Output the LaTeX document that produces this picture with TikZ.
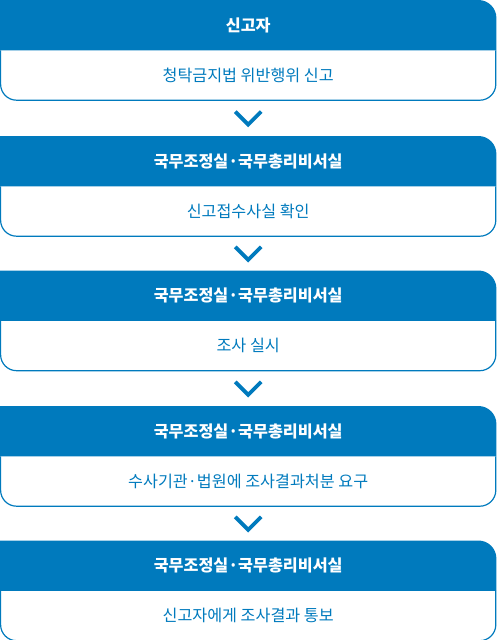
\documentclass[tikz,border=0pt]{standalone}
\usepackage{fontspec}
\setmainfont{Noto Sans CJK KR}
\usetikzlibrary{calc}

\definecolor{flowblue}{RGB}{0,122,189}

\newcommand\FLwidth{496}
\newcommand\FLhead{50}
\newcommand\FLbody{49.4}

\tikzset{
  headbox/.style={minimum width=\FLwidth, minimum height=\FLhead, inner sep=0pt,
    anchor=north west, text=white, font=\fontsize{16.2}{19}\selectfont\bfseries},
  bodybox/.style={minimum width=\FLwidth-1.2, minimum height=\FLbody, inner sep=0pt,
    anchor=north, text=flowblue, font=\fontsize{16.2}{19}\selectfont},
  chevron/.style={draw=flowblue, line width=3.8pt, miter limit=10}
}

\begin{document}
\begin{tikzpicture}[x=1pt, y=1pt]

\useasboundingbox (0,0) rectangle (\FLwidth,-640);

\foreach \i/\FLtop/\headtext/\bodytext in {
  1/0/신고자/청탁금지법 위반행위 신고,
  2/136/국무조정실·국무총리비서실/신고접수사실 확인,
  3/270.5/국무조정실·국무총리비서실/조사 실시,
  4/406/국무조정실·국무총리비서실/수사기관·법원에 조사결과처분 요구,
  5/540.5/국무조정실·국무총리비서실/신고자에게 조사결과 통보}
{
 \node[headbox] (head\i) at (0,-\FLtop) {\headtext};
 \node[bodybox] (body\i) at (head\i.south) {\bodytext};

 % blue title bar, only the upper right corner is round
 \fill[flowblue] (head\i.south west) -- (head\i.north west)
   [rounded corners=18pt] -- (head\i.north east)
   [sharp corners] -- (head\i.south east) -- cycle;
 \node[headbox] at (head\i.north west) {\headtext};

 % white part with round lower corners
 \draw[flowblue, line width=1.2pt] (body\i.north west)
   [rounded corners=16pt] -- (body\i.south west) -- (body\i.south east)
   [sharp corners] -- (body\i.north east);
}

% arrows between the steps
\foreach \i/\j in {1/2, 2/3, 3/4, 4/5}
{
 \coordinate (gap\i) at ($(body\i.south)!0.5!(head\j.north)$);
 \draw[chevron] ($(gap\i)+(-13,6.5)$) -- ($(gap\i)+(0,-6.5)$) -- ($(gap\i)+(13,6.5)$);
}

\end{tikzpicture}
\end{document}
